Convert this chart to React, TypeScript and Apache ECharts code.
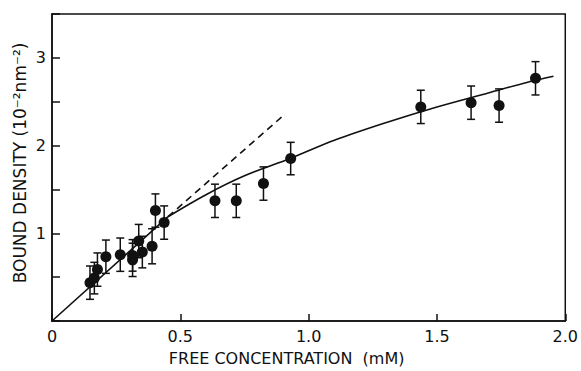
import React, { useEffect, useRef } from "react";
import * as echarts from "echarts";

// Measured data (free concentration in mM, bound density in 10^-2 nm^-2)
const conc = [0.148, 0.165, 0.177, 0.21, 0.266, 0.314, 0.314, 0.338, 0.352, 0.39, 0.403, 0.437, 0.635, 0.718, 0.824, 0.93, 1.437, 1.633, 1.742, 1.884];
const density = [0.437, 0.489, 0.586, 0.733, 0.756, 0.748, 0.697, 0.911, 0.786, 0.852, 1.259, 1.122, 1.37, 1.37, 1.567, 1.852, 2.441, 2.489, 2.456, 2.767];
const errors = [0.19, 0.18, 0.19, 0.19, 0.19, 0.18, 0.19, 0.19, 0.18, 0.2, 0.19, 0.19, 0.19, 0.19, 0.19, 0.185, 0.19, 0.19, 0.19, 0.19];

// Initial-slope line (solid part and dashed extrapolation)
const initX = [0, 0.452];
const initY = [0, 1.189];
const dashX = [0.452, 0.905];
const dashY = [1.189, 2.352];

// Fitted binding curve
const fitX = [0.452, 0.6, 0.75, 0.93, 1.1, 1.3, 1.5, 1.7, 1.85, 1.954];
const fitY = [1.189, 1.44, 1.655, 1.855, 2.06, 2.26, 2.44, 2.6, 2.72, 2.79];

const xTicks = ["0", "0.5", "1.0", "1.5", "2.0"];
const yTicks = ["1", "2", "3"];
const xTitle = "FREE CONCENTRATION  (mM)";
const yTitle = "BOUND DENSITY (10⁻²nm⁻²)";

const FONT = "DejaVu Sans";
const INK = "#111111";

export default function App() {
  const ref = useRef<HTMLDivElement>(null);
  useEffect(() => {
    if (!ref.current) return;
    const chart = echarts.init(ref.current, null, { renderer: "svg" });
    const pair = (xs: number[], ys: number[]) => xs.map((x, i) => [x, ys[i]]);
    chart.setOption({
      animation: false,
      backgroundColor: "#ffffff",
      grid: {
        left: 52,
        right: 7,
        top: 14,
        bottom: 41,
        show: true,
        borderColor: INK,
        borderWidth: 1.5,
        backgroundColor: "transparent",
      },
      graphic: [
        {
          type: "text",
          x: 20,
          y: 163,
          rotation: Math.PI / 2,
          style: {
            text: yTitle,
            fontFamily: FONT,
            fontSize: 17,
            fill: INK,
            align: "center",
            verticalAlign: "middle",
          },
        },
      ],
      xAxis: {
        type: "value",
        min: 0,
        max: 2,
        interval: 0.5,
        name: xTitle,
        nameLocation: "middle",
        nameGap: 29,
        nameTextStyle: { fontFamily: FONT, fontSize: 16, color: INK, padding: [0, 44, 0, 0] },
        axisLine: { lineStyle: { color: INK, width: 1.5 } },
        axisTick: { inside: true, length: 7, lineStyle: { color: INK, width: 1.5 } },
        splitLine: { show: false },
        axisLabel: {
          margin: 7,
          fontFamily: FONT,
          fontSize: 16,
          color: INK,
          formatter: (v: number) => xTicks[Math.round(v / 0.5)] ?? "",
        },
      },
      yAxis: {
        type: "value",
        min: 0,
        max: 3.5,
        interval: 0.5,
        axisLine: { lineStyle: { color: INK, width: 1.5 } },
        axisTick: { inside: true, length: 8, lineStyle: { color: INK, width: 1.5 } },
        splitLine: { show: false },
        axisLabel: {
          margin: 6,
          fontFamily: FONT,
          fontSize: 16,
          color: INK,
          formatter: (v: number) => (Number.isInteger(v) && v > 0 ? yTicks[v - 1] ?? "" : ""),
        },
      },
      series: [
        {
          type: "line",
          data: pair(initX, initY),
          symbol: "none",
          lineStyle: { color: INK, width: 1.6 },
          z: 2,
        },
        {
          type: "line",
          data: pair(dashX, dashY),
          symbol: "none",
          lineStyle: { color: INK, width: 1.6, type: [7, 5] },
          z: 2,
        },
        {
          type: "line",
          data: pair(fitX, fitY),
          symbol: "none",
          smooth: 0.35,
          lineStyle: { color: INK, width: 1.6 },
          z: 2,
        },
        {
          type: "custom",
          data: conc.map((c, i) => [c, density[i], errors[i]]),
          encode: { x: 0, y: 1 },
          z: 3,
          renderItem: (params: any, api: any) => {
            const x = api.value(0);
            const y = api.value(1);
            const e = api.value(2);
            const top = api.coord([x, y + e]);
            const bot = api.coord([x, y - e]);
            const hw = 4;
            const st = { stroke: INK, lineWidth: 1.5 };
            return {
              type: "group",
              children: [
                { type: "line", shape: { x1: top[0], y1: top[1], x2: bot[0], y2: bot[1] }, style: st },
                { type: "line", shape: { x1: top[0] - hw, y1: top[1], x2: top[0] + hw, y2: top[1] }, style: st },
                { type: "line", shape: { x1: bot[0] - hw, y1: bot[1], x2: bot[0] + hw, y2: bot[1] }, style: st },
              ],
            };
          },
        },
        {
          type: "scatter",
          data: pair(conc, density),
          symbol: "circle",
          symbolSize: 11,
          itemStyle: { color: INK, opacity: 1 },
          z: 4,
        },
      ],
    });
    return () => chart.dispose();
  }, []);
  return (
    <div
      ref={ref}
      style={{ position: "fixed", left: 0, top: 0, width: 581, height: 371, background: "#fff" }}
    />
  );
}
